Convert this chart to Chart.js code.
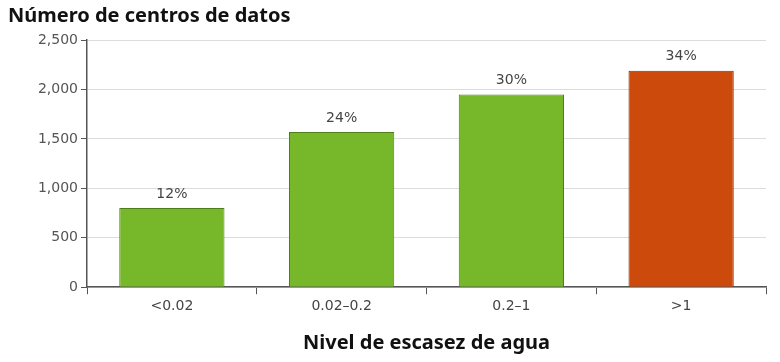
<!DOCTYPE html>
<html>
<head>
<meta charset="utf-8">
<script src="https://cdn.jsdelivr.net/npm/chart.js@4"></script>
<style>
  html, body { margin: 0; padding: 0; background: #fff; }
  #wrap { width: 780px; height: 362px; }
</style>
</head>
<body>
<div id="wrap"><canvas id="chart" width="780" height="362"></canvas></div>
<script>
// Datos
const categorias = ['<0.02', '0.02\u20130.2', '0.2\u20131', '>1'];
const centros = [800, 1570, 1950, 2190];
const porcentajes = ['12%', '24%', '30%', '34%'];
const coloresBarra = ['#76b82a', '#76b82a', '#76b82a', '#cc4b0c'];
const bordesBarra = ['#4f7d1c', '#4f7d1c', '#4f7d1c', '#7d2e07'];

// Etiquetas de porcentaje sobre las barras
const etiquetas = {
  id: 'etiquetas',
  afterDatasetsDraw(chart) {
    const ctx = chart.ctx;
    const meta = chart.getDatasetMeta(0);
    ctx.save();
    ctx.font = '14px "DejaVu Sans", sans-serif';
    ctx.fillStyle = '#444';
    ctx.textAlign = 'center';
    ctx.textBaseline = 'bottom';
    meta.data.forEach((bar, i) => {
      ctx.fillText(porcentajes[i], bar.x, bar.y - 7);
    });
    ctx.restore();
  }
};

new Chart(document.getElementById('chart'), {
  type: 'bar',
  data: {
    labels: categorias,
    datasets: [{
      data: centros,
      backgroundColor: coloresBarra,
      borderColor: bordesBarra,
      borderWidth: 1,
      categoryPercentage: 1,
      barPercentage: 0.62
    }]
  },
  options: {
    responsive: false,
    animation: false,
    layout: { padding: { left: 8, right: 14, top: 0, bottom: 7 } },
    plugins: {
      legend: { display: false },
      tooltip: { enabled: false },
      title: {
        display: true,
        text: 'Número de centros de datos',
        align: 'start',
        color: '#111',
        font: { family: '"Noto Sans", sans-serif', size: 20, weight: 'bold' },
        padding: { top: 4, bottom: 12 }
      }
    },
    scales: {
      x: {
        grid: {
          drawOnChartArea: false,
          tickColor: '#555',
          tickLength: 7
        },
        border: { color: '#555', width: 1.5 },
        ticks: {
          color: '#444',
          font: { family: '"DejaVu Sans", sans-serif', size: 14 },
          padding: 4
        },
        title: {
          display: true,
          text: 'Nivel de escasez de agua',
          color: '#111',
          font: { family: '"Noto Sans", sans-serif', size: 20, weight: 'bold' },
          padding: { top: 12, bottom: 0 }
        }
      },
      y: {
        min: 0,
        max: 2500,
        afterFit: s => { s.width = 79; },
        grid: {
          color: '#dcdcdc',
          tickColor: '#555',
          tickLength: 6
        },
        border: { color: '#555', width: 1.5 },
        ticks: {
          stepSize: 500,
          color: '#555',
          font: { family: '"DejaVu Sans", sans-serif', size: 14 },
          padding: 3,
          callback: v => v.toLocaleString('en-US')
        }
      }
    }
  },
  plugins: [etiquetas]
});
</script>
</body>
</html>
